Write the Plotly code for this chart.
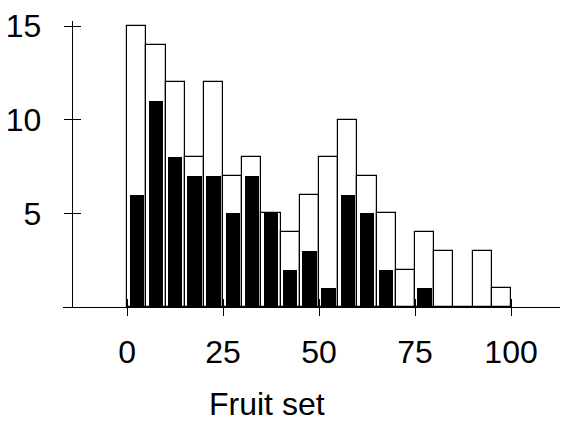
import plotly.graph_objects as go

bin_starts = list(range(0, 100, 5))
total_counts = [15, 14, 12, 8, 12, 7, 8, 5, 4, 6, 8, 10, 7, 5, 2, 4, 3, 0, 3, 1]
dark_counts = [6, 11, 8, 7, 7, 5, 7, 5, 2, 3, 1, 6, 5, 2, 0, 1, 0, 0, 0, 0]
x_ticks = [0, 25, 50, 75, 100]
y_ticks = [5, 10, 15]
x_title = "Fruit set"

centers = [b + 2.5 for b in bin_starts]
FONT = "Liberation Sans, Arial, sans-serif"
FS = 32

fig = go.Figure()
fig.add_trace(go.Bar(x=centers, y=total_counts, width=5,
                     marker=dict(color="white", line=dict(color="black", width=1.2)),
                     showlegend=False))
fig.add_trace(go.Bar(x=centers, y=dark_counts, width=3.75,
                     marker=dict(color="black", line=dict(width=0)),
                     showlegend=False))
# invisible trace for the inner-tick overlay axes
fig.add_trace(go.Scatter(x=[None], y=[None], xaxis="x2", yaxis="y2", showlegend=False))

xr = [-16.7, 112.75]
yr = [0, 15.27]
ypos = (71.7 - 63) / 497

fig.update_layout(
    width=584, height=421,
    margin=dict(l=63, r=24, t=21, b=114),
    paper_bgcolor="white", plot_bgcolor="white",
    barmode="overlay", bargap=0,
    font=dict(family=FONT, size=FS, color="black"),
    xaxis=dict(range=xr, tickvals=x_ticks, ticks="outside", ticklen=8, tickwidth=1,
               tickcolor="black", showline=True, linecolor="black", linewidth=1,
               showgrid=False, zeroline=False, ticklabelstandoff=9,
               anchor="y", automargin=False),
    yaxis=dict(range=yr, tickvals=y_ticks, ticks="outside", ticklen=8, tickwidth=1,
               tickcolor="black", showline=True, linecolor="black", linewidth=1,
               showgrid=False, zeroline=False, anchor="free", position=ypos,
               ticklabelstandoff=16, automargin=False),
    xaxis2=dict(range=xr, tickvals=x_ticks, ticks="inside", ticklen=8, tickwidth=1,
                tickcolor="black", showticklabels=False, showline=False,
                showgrid=False, zeroline=False, overlaying="x", anchor="y2",
                automargin=False),
    yaxis2=dict(range=yr, tickvals=y_ticks, ticks="inside", ticklen=8, tickwidth=1,
                tickcolor="black", showticklabels=False, showline=False,
                showgrid=False, zeroline=False, overlaying="y", anchor="free",
                position=ypos, automargin=False),
    annotations=[dict(text=x_title, x=36.5, xref="x", y=-0.34, yref="paper",
                      showarrow=False, xanchor="center", yanchor="middle",
                      font=dict(family=FONT, size=FS, color="black"))],
)

fig.write_html("out.html", config={"displayModeBar": False},
               post_script="document.body.style.margin='0';document.body.style.overflow='hidden';")
